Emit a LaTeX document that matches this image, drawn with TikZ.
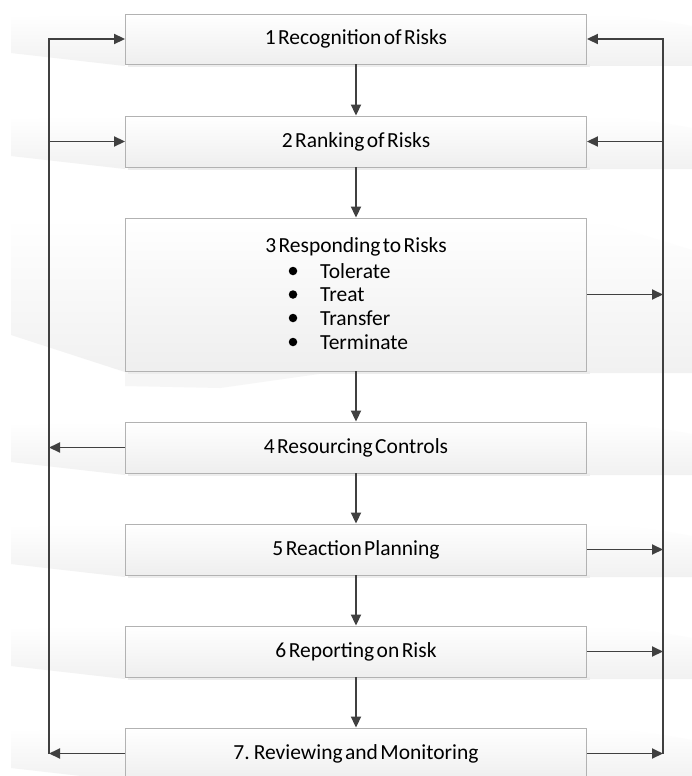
\documentclass[tikz,border=0pt]{standalone}
\usepackage{fontspec}
\newfontfamily\boxfont[WordSpace=0.5]{Carlito}
\newcommand{\boxtext}{\boxfont\fontsize{21.5}{24}\selectfont}
\usetikzlibrary{arrows.meta}
\definecolor{linec}{HTML}{404040}
\definecolor{boxline}{HTML}{B2B2B2}
\begin{document}
\begin{tikzpicture}[x=1pt,y=-1pt,
  box/.style={draw=boxline, line width=0.9pt, top color=white, bottom color=gray!13,
    minimum width=461pt, minimum height=51pt, inner sep=0pt, font=\boxtext},
  lbl/.style={inner sep=0pt, font=\boxtext},
  dot/.style={circle, fill=black, inner sep=0pt, minimum size=8.5pt},
  arr/.style={draw=linec, line width=1.9pt, -{Triangle[length=11pt,width=10pt]}},
  band/.style={top color=white, bottom color=gray!11, draw=none},
  shad/.style={fill=gray!14, draw=none}]
\useasboundingbox (0,0) rectangle (692,776);
\fill[white] (0,0) rectangle (692,776);
% background bands
\foreach \t/\b in {14/64,116/167,422/473,524/575,626/677,728/779}{
  \shade[band] (11,\t+4) -- (125,\t) -- (125,\b+2) -- (11,\b-11) -- cycle;
  \shade[band] (587,\t) .. controls (630,\t+2) and (660,\t+6) .. (692,\t+12) -- (692,\b+2) -- (587,\b+2) -- cycle;
}
\shade[band] (11,222) -- (125,218) -- (125,372) -- (11,335) -- cycle;
\shade[band] (587,218) -- (692,250) -- (692,373) -- (587,373) -- cycle;
\fill[gray!7] (125,371) -- (340,371) -- (220,388) -- (125,386) -- cycle;
% shadows
\foreach \t/\b in {14/64,116/167,218/371,422/473,524/575,626/677}{
  \fill[shad] (128,\b) rectangle (590,\b+3);
}
% boxes
\node[box, minimum height=50pt] (b1) at (356,39) {1 Recognition of Risks};
\node[box] (b2) at (356,141.5) {2 Ranking of Risks};
\node[box, minimum height=153pt] (b3) at (356,294.5) {};
\node[box] (b4) at (356,447.5) {4 Resourcing Controls};
\node[box] (b5) at (356,549.5) {5 Reaction Planning};
\node[box] (b6) at (356,651.5) {6 Reporting on Risk};
\node[box] (b7) at (356,753.5) {7. Reviewing and Monitoring};
% box 3 contents
\node[lbl] (t3) at (356,247) {3 Responding to Risks};
\node[dot] (d1) at (293,271) {};
\node[dot] (d2) at (293,294.5) {};
\node[dot] (d3) at (293,318) {};
\node[dot] (d4) at (293,342) {};
\node[lbl, anchor=west] (i1) at (320,271) {Tolerate};
\node[lbl, anchor=west] (i2) at (320,294.5) {Treat};
\node[lbl, anchor=west] (i3) at (320,318) {Transfer};
\node[lbl, anchor=west] (i4) at (320,342) {Terminate};
% vertical flow
\draw[arr] (b1) -- (b2);
\draw[arr] (b2) -- (b3);
\draw[arr] (b3) -- (b4);
\draw[arr] (b4) -- (b5);
\draw[arr] (b5) -- (b6);
\draw[arr] (b6) -- (b7);
% left loop
\coordinate (L1) at (49,39);
\coordinate (L7) at (49,753.5);
\draw[arr, line join=miter] (L7) -- (L1) -- (b1.west);
\draw[arr] (b2.west -| L1) -- (b2.west);
\draw[arr] (b4.west) -- (b4.west -| L1);
\draw[arr] (b7.west) -- (L7);
% right loop
\coordinate (R1) at (663,39);
\coordinate (R7) at (663,753.5);
\draw[arr, line join=miter] (R7) -- (R1) -- (b1.east);
\draw[arr] (b2.east -| R1) -- (b2.east);
\draw[arr] (b3.east) -- (b3.east -| R1);
\draw[arr] (b5.east) -- (b5.east -| R1);
\draw[arr] (b6.east) -- (b6.east -| R1);
\draw[arr] (b7.east) -- (R7);
\end{tikzpicture}
\end{document}
